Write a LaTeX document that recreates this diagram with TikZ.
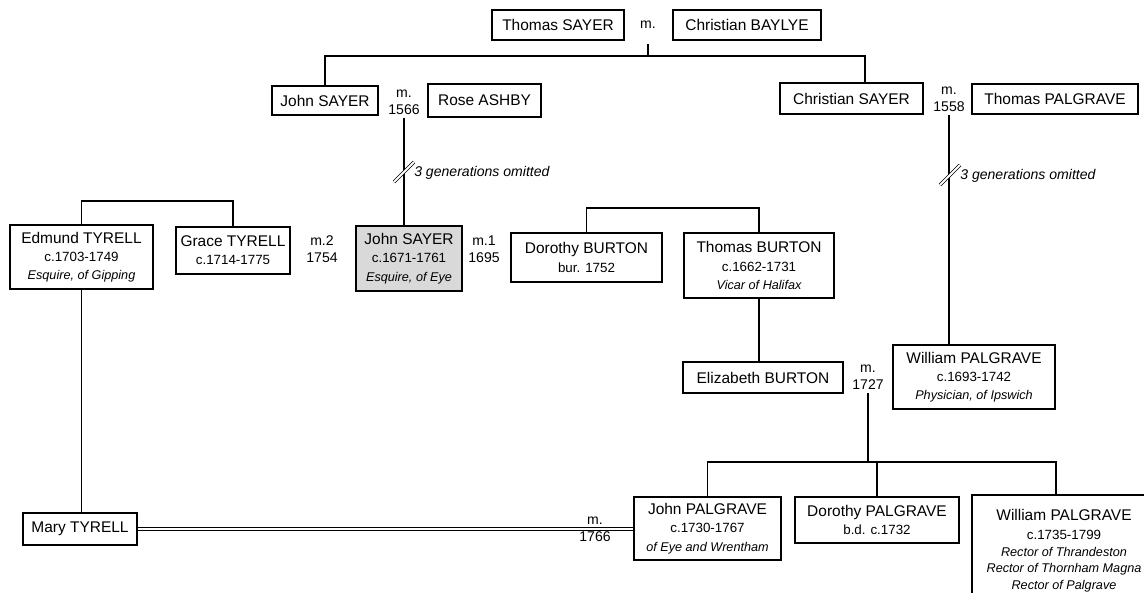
\documentclass[tikz,border=0pt]{standalone}
\usepackage{fontspec}
\setmainfont{Liberation Sans}
\usepackage{tikz}
\usetikzlibrary{calc}
\definecolor{focusgrey}{HTML}{D9D9D9}
\newcommand{\yrs}[1]{{\fontsize{9.5}{12}\selectfont #1}}
\newcommand{\occ}[1]{{\fontsize{9}{12}\selectfont\itshape #1}}

\begin{document}
\begin{tikzpicture}[x=0.025cm, y=-0.025cm,
    person/.style={draw, line width=1.2pt, align=center, inner sep=2pt,
                   font=\fontsize{11}{13}\selectfont},
    focus/.style={person, fill=focusgrey},
    wed/.style={align=center, inner sep=0pt, font=\fontsize{10}{12}\selectfont},
    omitted/.style={anchor=west, inner sep=0pt, font=\fontsize{10}{12}\selectfont\itshape},
    line/.style={line width=1.2pt},
    wedline/.style={double, double distance=1.3pt, line width=0.6pt},
    gapmark/.style={double, double distance=1.3pt, line width=0.55pt}
]
    \useasboundingbox (0,0) rectangle (1144,592);

    % first generation
    \node[person, minimum width=3.3cm, minimum height=0.75cm] (tsayer) at (558,25) {Thomas SAYER};
    \node[wed] (m0) at (648,25) {m.};
    \node[person, minimum width=3.7cm, minimum height=0.75cm] (cbaylye) at (747,25) {Christian BAYLYE};

    % their children
    \node[person, minimum width=2.65cm, minimum height=0.725cm] (jsayerA) at (325,100.5) {John SAYER};
    \node[wed] (m1566) at (404,102) {m.\\1566};
    \node[person, minimum width=2.825cm, minimum height=0.825cm] (rashby) at (484.5,100.5) {Rose ASHBY};
    \node[person, minimum width=3.575cm, minimum height=0.775cm] (csayer) at (851.5,98.5) {Christian SAYER};
    \node[wed] (m1558) at (949,99.5) {m.\\1558};
    \node[person, minimum width=4.15cm, minimum height=0.75cm] (tpalgrave) at (1055,99) {Thomas PALGRAVE};

    % omitted generations
    \coordinate (gapA) at (404,172);
    \coordinate (gapB) at (950,175);
    \node[omitted] (omitA) at (414,173) {3 generations omitted};
    \node[omitted] (omitB) at (960,176) {3 generations omitted};

    % row of John SAYER
    \node[person, minimum width=3.575cm, minimum height=1.6cm] (etyrell) at (81.5,257)
        {Edmund TYRELL\\\yrs{c.1703-1749}\\\occ{Esquire, of Gipping}};
    \node[person, minimum width=2.85cm, minimum height=1.175cm] (gtyrell) at (233,250.5)
        {Grace TYRELL\\\yrs{c.1714-1775}};
    \node[wed] (m2) at (322,249.5) {m.2\\1754};
    \node[focus, minimum width=2.65cm, minimum height=1.625cm] (jsayer) at (409,258.5)
        {John SAYER\\\yrs{c.1671-1761}\\\occ{Esquire, of Eye}};
    \node[wed] (m1) at (484,249.5) {m.1\\1695};
    \node[person, minimum width=3.775cm, minimum height=1.225cm] (dburton) at (586.5,257.5)
        {Dorothy BURTON\\\yrs{bur. 1752}};
    \node[person, minimum width=3.75cm, minimum height=1.625cm] (tburton) at (759,265.5)
        {Thomas BURTON\\\yrs{c.1662-1731}\\\occ{Vicar of Halifax}};

    % next row
    \node[person, minimum width=4cm, minimum height=0.775cm] (eburton) at (763,377.5) {Elizabeth BURTON};
    \node[wed] (m1727) at (868,377.5) {m.\\1727};
    \node[person, minimum width=4.05cm, minimum height=1.6cm] (wpalgraveA) at (974,377)
        {William PALGRAVE\\\yrs{c.1693-1742}\\\occ{Physician, of Ipswich}};

    % bottom row
    \node[person, minimum width=2.85cm, minimum height=0.8cm] (mtyrell) at (80,529) {Mary TYRELL};
    \node[wed] (m1766) at (595,529.5) {m.\\1766};
    \node[person, minimum width=3.675cm, minimum height=1.575cm] (jpalgrave) at (707.5,528.5)
        {John PALGRAVE\\\yrs{c.1730-1767}\\\occ{of Eye and Wrentham}};
    \node[person, minimum width=4.1cm, minimum height=1.15cm] (dpalgrave) at (877,520)
        {Dorothy PALGRAVE\\\yrs{b.d. c.1732}};
    \node[person, minimum width=4.6cm, minimum height=2.8cm] (wpalgraveB) at (1064,551)
        {William PALGRAVE\\\yrs{c.1735-1799}\\[-1pt]\occ{Rector of Thrandeston}\\[-1pt]\occ{Rector of Thornham Magna}\\[-1pt]\occ{Rector of Palgrave}};

    % descent lines
    \coordinate (bar0) at (648,56);
    \draw[line] (m0.south) ++(0,15) -- (bar0);
    \draw[line] (jsayerA.north) |- (bar0) -| ($(csayer.north)+(13.5,0)$);
    \draw[line] (m1566.south) ++(0,3) -- (m1566.south |- jsayer.north);
    \draw[line] (m1558.south) ++(0,3) -- (m1558.south |- wpalgraveA.north);
    \draw[gapmark] ($(gapA)+(-10,10)$) -- ($(gapA)+(10,-10)$);
    \draw[gapmark] ($(gapB)+(-10,10)$) -- ($(gapB)+(10,-10)$);

    \draw[line] (etyrell.north) -- ++(0,-23) -| (gtyrell.north);
    \draw[line] (dburton.north) -- ++(0,-24) -| (tburton.north);
    \draw[line] (tburton.south) -- (tburton.south |- eburton.north);
    \draw[line] (etyrell.south) -- (etyrell.south |- mtyrell.north);

    \coordinate (bar1727) at (868,462);
    \draw[line] (m1727.south) ++(0,3) -- (bar1727);
    \draw[line] (jpalgrave.north) |- ($(wpalgraveB.north |- bar1727)+(-8,0)$) -- ($(wpalgraveB.north)+(-8,0)$);
    \draw[line] (dpalgrave.north) -- (dpalgrave.north |- bar1727);

    % marriage of Mary TYRELL
    \draw[wedline] (mtyrell.east) -- (jpalgrave.west |- mtyrell.east);
\end{tikzpicture}
\end{document}
